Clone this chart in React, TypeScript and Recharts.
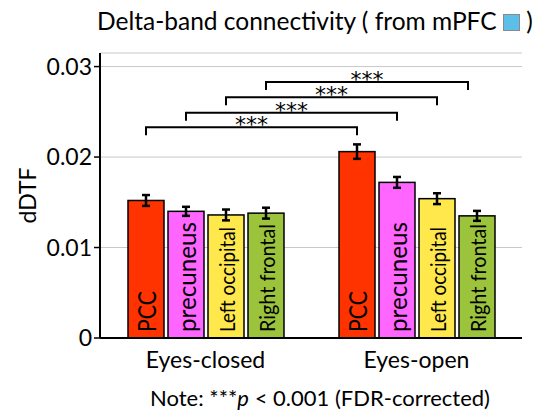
import React from "react";
import { BarChart, Bar, XAxis, YAxis, CartesianGrid, ErrorBar } from "recharts";

const groups = ["Eyes-closed", "Eyes-open"];
const regionNames = ["PCC", "precuneus", "Left occipital", "Right frontal"];
const pccValues = [0.0152, 0.0206];
const precuneusValues = [0.014, 0.0172];
const leftOccipitalValues = [0.0136, 0.0154];
const rightFrontalValues = [0.0138, 0.0135];
const pccErrors = [0.0006, 0.0008];
const precuneusErrors = [0.0005, 0.0006];
const leftOccipitalErrors = [0.0006, 0.0006];
const rightFrontalErrors = [0.0006, 0.00055];
// bracket heights (dDTF units) comparing EC vs EO for each region
const bracketLevels = [0.0233, 0.0249, 0.0266, 0.0283];
const significance = ["***", "***", "***", "***"];
const yTicks = [0, 0.01, 0.02, 0.03];

const keys = ["pcc", "prec", "locc", "rfront"];
const colors = ["#ff3300", "#ff66ff", "#ffe84c", "#9bc43c"];
const labelSizes = [25, 25, 21, 21];
const labelLengths = [41, 110, 105, 108];

const data = groups.map((g, i) => ({
  group: g,
  pcc: pccValues[i],
  pccErr: pccErrors[i],
  prec: precuneusValues[i],
  precErr: precuneusErrors[i],
  locc: leftOccipitalValues[i],
  loccErr: leftOccipitalErrors[i],
  rfront: rightFrontalValues[i],
  rfrontErr: rightFrontalErrors[i],
}));

const FONT = "Lato, 'DejaVu Sans', sans-serif";

// remember bar centres so the EO bar can draw the bracket back to the EC bar
const centers: number[][] = [[], [], [], []];

const makeShape = (s: number) => (props: any) => {
  const { x, y, width, height, index, payload } = props;
  const v = payload[keys[s]];
  const cx = x + width / 2;
  centers[s][index] = cx;
  const bottom = y + height;
  const k = v ? height / v : 0;
  let bracket = null;
  if (index === 1 && centers[s][0] != null) {
    const by = bottom - bracketLevels[s] * k;
    const x0 = centers[s][0];
    const x1 = s === 3 ? cx - 9 : cx;
    bracket = (
      <g>
        <path
          d={`M${x0},${by + 8}V${by}H${x1}V${by + 8}`}
          fill="none"
          stroke="#000"
          strokeWidth={2}
        />
        <text
          x={(x0 + x1) / 2}
          y={by + 5}
          textAnchor="middle"
          fontSize={22}
          fontFamily="'DejaVu Sans', sans-serif"
          fill="#000"
        >
          {significance[s]}
        </text>
      </g>
    );
  }
  return (
    <g>
      <rect x={x} y={y} width={width} height={height} fill={colors[s]} stroke="#000" strokeWidth={1.5} />
      <text
        x={cx}
        y={bottom - 6}
        transform={`rotate(-90 ${cx} ${bottom - 6})`}
        dominantBaseline="central"
        fontSize={labelSizes[s]}
        fontFamily={FONT}
        textLength={labelLengths[s]}
        lengthAdjust="spacingAndGlyphs"
        fill="#000"
      >
        {regionNames[s]}
      </text>
      {bracket}
    </g>
  );
};

export default function App() {
  return (
    <div style={{ position: "absolute", left: 0, top: 0, width: 559, height: 410, background: "#fff", fontFamily: FONT }}>
      <div style={{ position: "absolute", left: 97, top: 6, fontSize: 24.5, lineHeight: "30px", color: "#000", whiteSpace: "nowrap" }}>
        Delta-band connectivity ( from mPFC{" "}
        <span
          style={{
            display: "inline-block",
            width: 15,
            height: 15,
            background: "#5bbfea",
            border: "1px solid #8a8a8a",
            verticalAlign: "-1px",
          }}
        />{" "}
        )
      </div>
      <BarChart
        width={559}
        height={410}
        data={data}
        margin={{ top: 53, right: 37, bottom: 42, left: 40 }}
        barSize={36}
        barGap={4}
      >
        <CartesianGrid vertical={false} stroke="#c8c8c8" />
        <XAxis
          dataKey="group"
          axisLine={{ stroke: "#000", strokeWidth: 2 }}
          tickLine={false}
          height={30}
          tick={{ fill: "#000", fontSize: 23, fontFamily: FONT }}
          dy={6}
        />
        <YAxis
          width={60}
          domain={[0, 0.0315]}
          ticks={yTicks}
          interval={0}
          axisLine={{ stroke: "#000", strokeWidth: 2 }}
          tickLine={{ stroke: "#000", strokeWidth: 1.5 }}
          tickSize={6}
          tick={{ fill: "#000", fontSize: 23, fontFamily: FONT }}
          label={{
            value: "dDTF",
            angle: -90,
            position: "insideLeft",
            offset: -12,
            style: { fill: "#000", fontSize: 23, fontFamily: FONT, textAnchor: "middle" },
          }}
        />
        {keys.map((k, s) => (
          <Bar key={k} dataKey={k} isAnimationActive={false} shape={makeShape(s)}>
            <ErrorBar dataKey={k + "Err"} width={4} stroke="#000" strokeWidth={2.5} />
          </Bar>
        ))}
      </BarChart>
      <div style={{ position: "absolute", left: 0, width: 640, top: 384, textAlign: "center", fontSize: 22, lineHeight: "28px", color: "#000", whiteSpace: "nowrap" }}>
        Note: ***<i>p</i> &lt; 0.001 (FDR-corrected)
      </div>
    </div>
  );
}
